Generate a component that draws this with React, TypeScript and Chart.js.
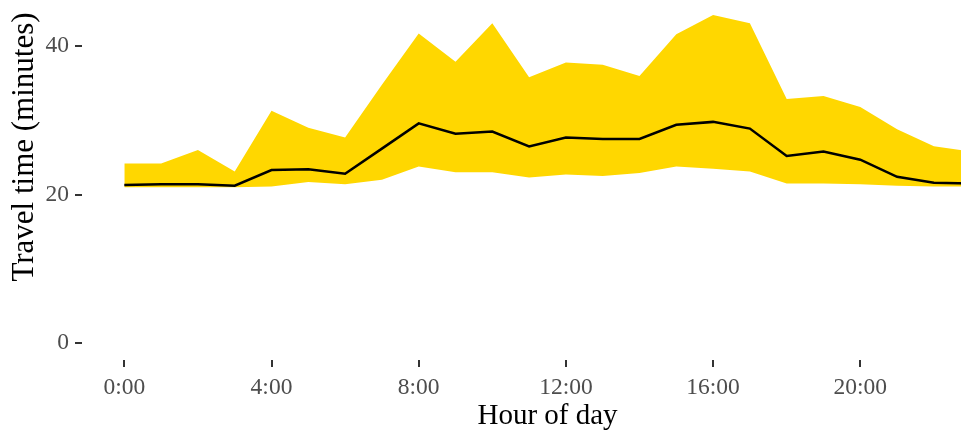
import React, { useEffect, useRef } from "react";
import { Chart, registerables } from "chart.js";

Chart.register(...registerables);

const hours = [0, 1, 2, 3, 4, 5, 6, 7, 8, 9, 10, 11, 12, 13, 14, 15, 16, 17, 18, 19, 20, 21, 22, 23];
const lowerTime = [21.0, 21.0, 21.0, 21.0, 21.1, 21.7, 21.4, 22.0, 23.8, 23.0, 23.0, 22.3, 22.7, 22.5, 22.9, 23.8, 23.5, 23.1, 21.5, 21.5, 21.4, 21.2, 21.1, 21.1];
const upperTime = [24.2, 24.2, 26.0, 23.1, 31.3, 29.0, 27.7, 34.8, 41.7, 37.9, 43.1, 35.8, 37.8, 37.5, 36.0, 41.6, 44.2, 43.1, 32.9, 33.3, 31.8, 28.8, 26.5, 25.8];
const medianTime = [21.3, 21.4, 21.4, 21.2, 23.3, 23.4, 22.8, 26.2, 29.6, 28.2, 28.5, 26.5, 27.7, 27.5, 27.5, 29.4, 29.8, 28.9, 25.2, 25.8, 24.7, 22.4, 21.6, 21.5];
const xTickValues = [0, 4, 8, 12, 16, 20];
const yTickValues = [0, 20, 40];

const FONT = '"Liberation Serif", "Times New Roman", serif';

export default function App() {
  const ref = useRef<HTMLCanvasElement | null>(null);

  useEffect(() => {
    if (!ref.current) return;
    const toPts = (arr: number[]) => hours.map((h, i) => ({ x: h, y: arr[i] }));
    const chart = new Chart(ref.current, {
      type: "line",
      data: {
        datasets: [
          {
            label: "lower",
            data: toPts(lowerTime),
            borderWidth: 0,
            pointRadius: 0,
            fill: false,
            borderColor: "rgba(0,0,0,0)",
            backgroundColor: "#FFD700",
            order: 2,
          },
          {
            label: "upper",
            data: toPts(upperTime),
            borderWidth: 0,
            pointRadius: 0,
            fill: "-1",
            borderColor: "rgba(0,0,0,0)",
            backgroundColor: "#FFD700",
            order: 1,
          },
          {
            label: "median",
            data: toPts(medianTime),
            borderWidth: 2.5,
            pointRadius: 0,
            fill: false,
            borderColor: "#000000",
            order: 0,
          },
        ],
      },
      options: {
        responsive: false,
        animation: false,
        layout: { padding: 0 },
        plugins: {
          legend: { display: false },
          tooltip: { enabled: false },
        },
        scales: {
          x: {
            type: "linear",
            min: -1.15,
            max: 24.15,
            afterBuildTicks: (s: any) => {
              s.ticks = xTickValues.map((v) => ({ value: v }));
            },
            afterFit: (s: any) => {
              s.height = 76;
              s.paddingLeft = 0;
              s.paddingRight = 0;
              s.paddingTop = 0;
              s.paddingBottom = 0;
            },
            grid: {
              drawOnChartArea: false,
              drawTicks: true,
              tickLength: 7,
              color: "#333333",
              lineWidth: 2,
            },
            border: { display: false },
            ticks: {
              autoSkip: false,
              maxRotation: 0,
              padding: 7,
              color: "#4D4D4D",
              font: { family: FONT, size: 23.5 },
              callback: (v: any) => `${v}:00`,
            },
            title: {
              display: true,
              text: "Hour of day",
              color: "#000000",
              font: { family: FONT, size: 29, lineHeight: 1 },
              padding: { top: 0, bottom: 5 },
            },
          },
          y: {
            type: "linear",
            min: -2.29,
            max: 55.12,
            afterBuildTicks: (s: any) => {
              s.ticks = yTickValues.map((v) => ({ value: v }));
            },
            afterFit: (s: any) => {
              s.width = 82;
              s.paddingLeft = 0;
              s.paddingRight = 0;
              s.paddingTop = 0;
              s.paddingBottom = 0;
            },
            grid: {
              drawOnChartArea: false,
              drawTicks: true,
              tickLength: 7,
              color: "#333333",
              lineWidth: 2,
            },
            border: { display: false },
            ticks: {
              autoSkip: false,
              padding: 6,
              color: "#4D4D4D",
              font: { family: FONT, size: 23.5 },
            },
            title: {
              display: true,
              text: "Travel time (minutes)",
              color: "#000000",
              font: { family: FONT, size: 31, lineHeight: 1 },
              padding: { top: 9, bottom: 0 },
            },
          },
        },
      },
    } as any);
    return () => chart.destroy();
  }, []);

  return (
    <div style={{ position: "absolute", left: 0, top: 0, width: 961, height: 436, overflow: "hidden", background: "#ffffff" }}>
      <canvas
        ref={ref}
        width={1013}
        height={502}
        style={{ display: "block", position: "absolute", left: 0, top: -66, width: 1013, height: 502 }}
      />
    </div>
  );
}
